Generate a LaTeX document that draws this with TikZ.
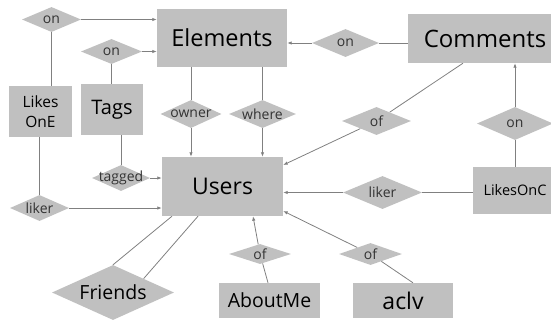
\documentclass[tikz,border=0pt]{standalone}
\usepackage{fontspec}
\setmainfont{Open Sans}
\usetikzlibrary{shapes.geometric,arrows.meta,backgrounds}
\definecolor{boxgray}{HTML}{C0C0C0}
\definecolor{linegray}{HTML}{808080}
\definecolor{dtext}{HTML}{333333}
\tikzset{
 ent/.style={rectangle, fill=boxgray, inner sep=0pt, text=black},
 rel/.style={diamond, fill=boxgray, inner sep=0pt, text=dtext, font=\fontsize{14}{16}\selectfont},
 conn/.style={draw=linegray, line width=0.8pt},
 arr/.style={conn, -{Latex[length=4.5pt,width=3.5pt]}},
}
\newcommand{\dlab}[1]{\makebox[0pt]{#1}}
\begin{document}
\begin{tikzpicture}[x=1pt,y=-1pt]
\useasboundingbox (0,0) rectangle (551,322);
% entities
\node[ent, minimum width=130pt, minimum height=58pt, font=\fontsize{23.5}{28}\selectfont] (Elements) at (222,38) {Elements};
\node[ent, minimum width=154pt, minimum height=49pt, font=\fontsize{24}{28}\selectfont] (Comments) at (485,38.5) {Comments};
\node[ent, minimum width=62pt, minimum height=51pt, font=\fontsize{20}{24}\selectfont] (Tags) at (112,109.5) {Tags};
\node[ent, minimum width=63pt, minimum height=51pt, align=center, font=\fontsize{15.5}{20}\selectfont] (LikesOnE) at (40.5,111.5) {Likes\\OnE};
\node[ent, minimum width=121pt, minimum height=59pt, font=\fontsize{23}{28}\selectfont] (Users) at (222.5,186.5) {Users\hspace{10pt}};
\node[ent, minimum width=84pt, minimum height=47pt, font=\fontsize{14.5}{18}\selectfont] (LikesOnC) at (515,190.5) {LikesOnC};
\node[ent, minimum width=101pt, minimum height=35pt, font=\fontsize{19.5}{24}\selectfont] (AboutMe) at (269.5,300.5) {AboutMe};
\node[ent, minimum width=100pt, minimum height=35pt, font=\fontsize{23}{28}\selectfont] (aclv) at (403,300.5) {aclv};
% relations
\node[rel, minimum width=59pt, minimum height=25pt] (on1) at (51.5,19.5) {\dlab{on}};
\node[rel, minimum width=61pt, minimum height=25pt] (on2) at (111.5,51.5) {\dlab{on}};
\node[rel, minimum width=61pt, minimum height=28pt] (owner) at (191,114) {\dlab{owner}};
\node[rel, minimum width=67pt, minimum height=28pt] (where) at (262.5,114) {\dlab{where}};
\node[rel, minimum width=67pt, minimum height=28pt] (onC) at (345.5,43) {\dlab{on}};
\node[rel, minimum width=69pt, minimum height=28pt] (of1) at (376.5,121) {\dlab{of}};
\node[rel, minimum width=76pt, minimum height=33pt] (onR) at (515,123.5) {\dlab{on}};
\node[rel, minimum width=79pt, minimum height=33pt] (likerR) at (382.5,192.5) {\dlab{liker}};
\node[rel, minimum width=63pt, minimum height=22pt] (ofA) at (370.5,254) {\dlab{of}};
\node[rel, minimum width=62pt, minimum height=20pt] (ofB) at (260,254) {\dlab{of}};
\node[rel, minimum width=122pt, minimum height=55pt, font=\fontsize{19.5}{24}\selectfont, text=black] (Friends) at (113,292.5) {\dlab{Friends}};
\node[rel, minimum width=58pt, minimum height=26pt] (tagged) at (121,178) {\dlab{tagged}};
\node[rel, minimum width=59pt, minimum height=26pt] (likerL) at (39.5,208) {\dlab{liker}};
% connectors
\begin{pgfonlayer}{background}
\draw[arr] (on1.east) -- (Elements.west |- on1.east);
\draw[arr] (on2.east) -- (Elements.west |- on2.east);
\draw[conn] (LikesOnE.north -| on1.south) -- (on1.south);
\draw[conn] (Tags.north -| on2.south) -- (on2.south);
\draw[conn] (LikesOnE.south -| likerL.north) -- (likerL.north);
\draw[arr] (likerL.east) -- (Users.west |- likerL.east);
\draw[conn] (Tags.south -| tagged.north) -- (tagged.north);
\draw[arr] (tagged.east) -- (Users.west |- tagged.east);
\draw[conn] (Elements.south -| owner.north) -- (owner.north);
\draw[arr] (owner.south) -- (Users.north -| owner.south);
\draw[conn] (Elements.south -| where.north) -- (where.north);
\draw[arr] (where.south) -- (Users.north -| where.south);
\draw[conn] (Comments.west |- onC.east) -- (onC.east);
\draw[arr] (onC.west) -- (Elements.east |- onC.west);
\draw[conn] ([xshift=-22pt]Comments.south) -- (of1);
\draw[arr] (of1) -- ([yshift=21.5pt]Users.east);
\draw[arr] (onR.north) -- (Comments.south -| onR.north);
\draw[conn] (LikesOnC.north -| onR.south) -- (onR.south);
\draw[conn] (LikesOnC.west |- likerR.east) -- (likerR.east);
\draw[arr] (likerR.west) -- (Users.east |- likerR.west);
\draw[conn] ([xshift=10pt]aclv.north) -- (ofA);
\draw[arr] (ofA) -- ([yshift=-24.5pt]Users.east);
\draw[conn] ([xshift=-1.5pt]AboutMe.north) -- (ofB);
\draw[arr] (ofB) -- ([xshift=30.5pt]Users.south);
\draw[conn] ([xshift=-50.5pt]Users.south) -- (Friends.north);
\draw[conn] ([xshift=-24.5pt]Users.south) -- (Friends.north east);
\end{pgfonlayer}
\end{tikzpicture}
\end{document}
